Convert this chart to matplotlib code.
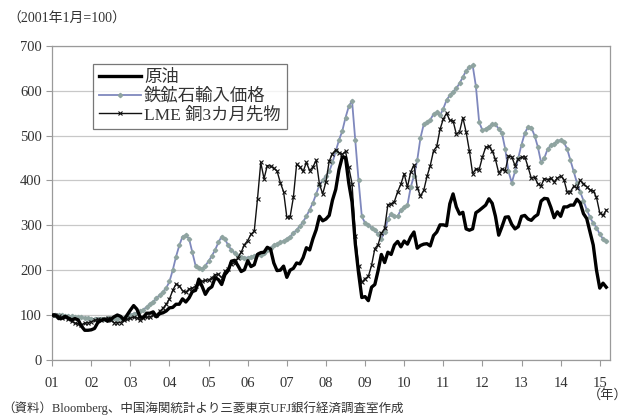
import numpy as np
import matplotlib.pyplot as plt

plt.rcParams['font.family'] = ['Liberation Serif', 'Noto Sans CJK JP']

# monthly index values, 2001-01 .. 2015-03 (2001年1月=100)
crude_oil = [
    100, 100, 92, 93, 97, 93, 89, 92, 89, 75, 66, 66,
    67, 70, 83, 88, 91, 86, 91, 96, 100, 97, 89, 100,
    111, 121, 113, 95, 95, 104, 104, 107, 96, 103, 105, 109,
    116, 117, 124, 124, 136, 129, 138, 152, 155, 180, 164, 146,
    158, 163, 183, 179, 168, 190, 199, 220, 222, 210, 197, 201,
    221, 208, 212, 235, 239, 240, 251, 247, 216, 199, 200, 209,
    184, 200, 204, 216, 214, 228, 250, 245, 270, 290, 320, 310,
    314, 322, 356, 380, 424, 452, 451, 394, 352, 259, 194, 139,
    141, 132, 162, 168, 199, 235, 217, 240, 235, 256, 264, 252,
    265, 258, 274, 285, 249, 255, 258, 259, 254, 277, 285, 301,
    301, 299, 348, 370, 341, 325, 329, 292, 289, 292, 328, 333,
    339, 345, 359, 349, 320, 278, 297, 318, 319, 302, 292, 297,
    320, 322, 314, 311, 319, 324, 354, 360, 359, 340, 317, 330,
    320, 341, 341, 345, 345, 358, 350, 326, 315, 285, 256, 200,
    160, 171, 162,
]
iron_ore = [
    100, 101, 100, 99, 98, 97, 97, 96, 95, 95, 94, 93,
    92, 91, 92, 92, 91, 93, 92, 93, 92, 93, 94, 95,
    100, 103, 105, 108, 112, 118, 125, 130, 137, 145, 152, 160,
    175, 200, 230, 255, 275, 278, 270, 240, 210, 205, 203, 210,
    220, 232, 245, 262, 275, 270, 255, 245, 238, 232, 230, 228,
    228, 230, 232, 235, 233, 238, 245, 250, 256, 258, 262, 265,
    270, 275, 282, 290, 298, 308, 320, 335, 350, 370, 390, 400,
    410, 420, 440, 465, 490, 510, 540, 565, 578, 490, 400, 320,
    305, 300, 295, 290, 280, 270, 285, 315, 325, 320, 320, 335,
    340, 345, 385, 410, 445, 495, 525, 530, 535, 548, 552, 545,
    560, 579, 590, 598, 605, 617, 630, 645, 652, 657, 610, 530,
    512, 515, 520, 525, 525, 515, 505, 470, 420, 395, 420, 450,
    480, 505, 520, 518, 500, 475, 440, 450, 470, 478, 482, 488,
    490, 485, 470, 445, 420, 395, 375, 355, 335, 318, 305, 295,
    280, 270, 265,
]
lme_copper = [
    100, 100, 97, 94, 95, 90, 86, 82, 80, 78, 82, 83,
    85, 88, 90, 89, 90, 93, 89, 83, 83, 83, 89, 90,
    93, 95, 94, 89, 93, 95, 96, 99, 101, 108, 115, 124,
    136, 155, 169, 165, 154, 151, 158, 160, 164, 169, 175, 177,
    178, 183, 190, 191, 183, 198, 203, 213, 217, 228, 240, 257,
    266, 280, 287, 359, 440, 404, 433, 432, 427, 421, 395, 375,
    318, 319, 362, 436, 430, 420, 440, 422, 430, 445, 392, 370,
    397, 443, 460, 468, 462, 458, 465, 429, 393, 277, 209, 173,
    181, 186, 211, 248, 257, 282, 293, 346, 348, 353, 375, 392,
    415, 385, 419, 435, 384, 365, 378, 409, 433, 466, 476, 514,
    537, 550, 534, 533, 503, 509, 540, 508, 466, 415, 426, 424,
    452, 474, 476, 466, 447, 417, 426, 422, 454, 453, 433, 448,
    452, 453, 430, 405, 407, 393, 388, 404, 402, 405, 397, 405,
    410, 402, 374, 375, 387, 383, 400, 393, 386, 379, 377, 362,
    328, 322, 334,
]
year_ticks = list(range(2001, 2016))
year_labels = ['%02d' % (y % 100) for y in year_ticks]

months = 2001 + np.arange(len(crude_oil)) / 12

fig = plt.figure(figsize=(6.36, 4.17), dpi=100)
ax = fig.add_axes([0.082, 0.137, 0.877, 0.753])

ax.plot(months, iron_ore, color='#7f88bd', lw=1.3, marker='D', ms=2.2,
        mfc='#8fa4a0', mec='#8fa4a0', label='鉄鉱石輸入価格', zorder=2)
ax.plot(months, lme_copper, color='#111111', lw=1.0, marker='x', ms=2.2,
        mew=0.8, label='LME 銅3カ月先物', zorder=3)
ax.plot(months, crude_oil, color='black', lw=2.4, label='原油', zorder=4)

ax.set_xlim(2001, 2015.26)
ax.set_ylim(0, 700)
ax.set_yticks(range(0, 701, 100))
ax.set_xticks(year_ticks)
ax.set_xticklabels(year_labels)
ax.grid(axis='y', color='#c8c8c8', lw=0.9)
ax.set_axisbelow(True)
for s in ax.spines.values():
    s.set_color('#9a9a9a')
    s.set_linewidth(0.9)
ax.tick_params(axis='both', colors='#9a9a9a', labelcolor='#333333',
               labelsize=10.5, length=4, width=0.8)
ax.tick_params(axis='x', pad=8)

handles, labels = ax.get_legend_handles_labels()
order = [2, 0, 1]
leg = ax.legend([handles[i] for i in order], [labels[i] for i in order],
                loc='upper left', bbox_to_anchor=(0.073, 0.943),
                fontsize=12.5, frameon=True, fancybox=False,
                handlelength=2.4, handletextpad=0.2, borderpad=0.35,
                labelspacing=0.12, borderaxespad=0)
leg.get_frame().set_edgecolor('#555555')
leg.get_frame().set_linewidth(0.9)
for t in leg.get_texts():
    t.set_color('#333333')

fig.text(0.012, 0.955, '（2001年1月=100）', fontsize=10, color='#333333',
         va='center')
fig.text(0.925, 0.052, '（年）', fontsize=9.5, color='#333333', va='center')
fig.text(0.003, 0.022, '（資料）Bloomberg、中国海関統計より三菱東京UFJ銀行経済調査室作成',
         fontsize=9, color='#333333', va='center')

fig.savefig('out.png', dpi=100)
